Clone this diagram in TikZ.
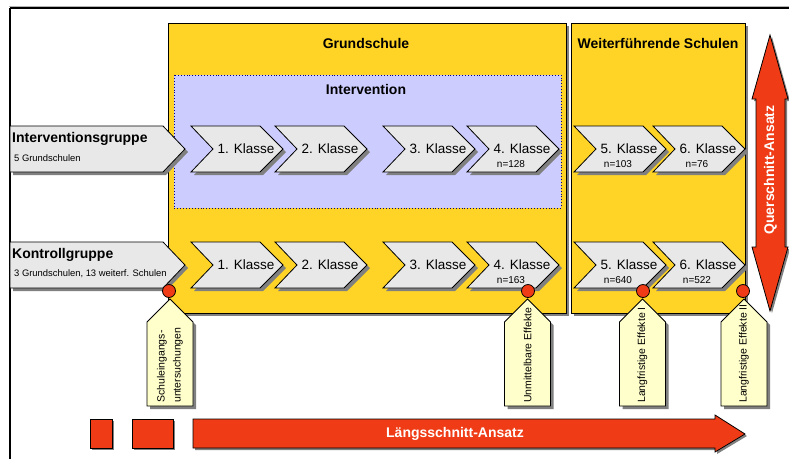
\documentclass[tikz,border=0pt]{standalone}
\usepackage{fontspec}
\setmainfont{Liberation Sans}
\usetikzlibrary{calc}

\definecolor{schoolyellow}{RGB}{255,212,38}
\definecolor{lavender}{RGB}{204,204,255}
\definecolor{chevgray}{RGB}{232,232,232}
\definecolor{tagyellow}{RGB}{255,255,204}
\definecolor{arrowred}{RGB}{240,60,22}
\definecolor{shadowc}{RGB}{128,128,128}
\definecolor{dotblue}{RGB}{0,0,128}

% chevron for one school year: name, left x, middle y, label
\newcommand\klassechev[4]{%
  \fill[shadowc] (#2+3,#3-20) -- ++(69,0) -- ++(23,23) -- ++(-23,23) -- ++(-69,0) -- ++(22,-23) -- cycle;
  \draw[chevline] (#2,#3-23) -- ++(69,0) -- ++(23,23) -- ++(-23,23) -- ++(-69,0) -- ++(22,-23) -- cycle;
  \node[klassetxt] (#1) at (#2+55,#3) {#4};
}
% group arrow on the left edge: name, top y
\newcommand\grouparrow[2]{%
  \fill[shadowc] (13,#2+3) -- (166,#2+3) -- (188,#2+26) -- (166,#2+49) -- (13,#2+49) -- cycle;
  \draw[chevline] (10,#2) -- (163,#2) -- (185,#2+23) -- (163,#2+46) -- (10,#2+46) -- cycle;
  \coordinate (#1) at (10,#2);
}
% measurement tag hanging below a dot: name, centre x, text
\newcommand\mtag[3]{%
  \fill[shadowc] (#2-20,325) -- (#2+3,302) -- (#2+26,325) -- (#2+26,409) -- (#2-20,409) -- cycle;
  \draw[tagline] (#2-23,322) -- (#2,299) -- (#2+23,322) -- (#2+23,406) -- (#2-23,406) -- cycle;
  \node[tagtxt] (#1) at (#2,403) {#3};
}

\tikzset{
  chevline/.style={fill=chevgray, draw=black, line width=0.8pt, line join=miter},
  tagline/.style={fill=tagyellow, draw=black, line width=0.8pt},
  klassetxt/.style={inner sep=0pt, font=\fontsize{13.5}{15}\selectfont},
  ntxt/.style={inner sep=0pt, font=\fontsize{10}{11}\selectfont},
  titletxt/.style={inner sep=0pt, font=\fontsize{14}{16}\selectfont\bfseries},
  grouptxt/.style={inner sep=0pt, anchor=base west, font=\fontsize{14}{16}\selectfont\bfseries},
  groupsub/.style={inner sep=0pt, anchor=base west, font=\fontsize{9.4}{11}\selectfont},
  tagtxt/.style={inner sep=0pt, rotate=90, anchor=west, align=left, font=\fontsize{10.5}{16}\selectfont},
  dotstyle/.style={circle, fill=arrowred, draw=black, line width=0.8pt, minimum size=13pt, inner sep=0pt},
  redshape/.style={fill=arrowred, draw=black, line width=0.8pt},
  arrowtxt/.style={inner sep=0pt, text=white, font=\fontsize{14}{16}\selectfont\bfseries},
}

\begin{document}
\begin{tikzpicture}[x=1pt,y=-1pt]
\useasboundingbox (0,0) rectangle (789,459);
\fill[white] (0,0) rectangle (789,459);

% outer frame
\draw[shadowc!60, line width=1pt] (9,6.5) -- (789,6.5);
\draw[black, line width=1.5pt] (10,8) -- (789,8);
\draw[black, line width=1.5pt] (10,8) -- (10,459);

% school type panels with shadows
\fill[shadowc] (171,26) rectangle (569,316);
\draw[fill=schoolyellow, draw=black, line width=0.8pt] (168,23) rectangle (566,313);
\fill[shadowc] (574,26) rectangle (748,316);
\draw[fill=schoolyellow, draw=black, line width=0.8pt] (571,23) rectangle (745,313);
\node[titletxt] (gs) at (366,43) {Grundschule};
\node[titletxt] (ws) at (658,43) {Weiterführende Schulen};

% intervention period
\draw[fill=lavender, draw=dotblue, line width=0.9pt, dotted] (174,75) rectangle (561,208);
\node[titletxt] (iv) at (366,89) {Intervention};

% groups
\grouparrow{ig}{126}
\node[grouptxt] (igt) at (12,142) {Interventionsgruppe};
\node[groupsub] (igs) at (14,161) {5 Grundschulen};
\grouparrow{kg}{242}
\node[grouptxt] (kgt) at (12,258) {Kontrollgruppe};
\node[groupsub] (kgs) at (14,276) {3 Grundschulen, 13 weiterf. Schulen};

% intervention group school years
\klassechev{i1}{191}{149}{1. Klasse}
\klassechev{i2}{275}{149}{2. Klasse}
\klassechev{i3}{383}{149}{3. Klasse}
\klassechev{i4}{467}{149}{4. Klasse}
\klassechev{i5}{574}{149}{5. Klasse}
\klassechev{i6}{653}{149}{6. Klasse}
\node[ntxt] (i4n) at (511,164) {n=128};
\node[ntxt] (i5n) at (618,164) {n=103};
\node[ntxt] (i6n) at (697,164) {n=76};

% control group school years
\klassechev{k1}{191}{265}{1. Klasse}
\klassechev{k2}{275}{265}{2. Klasse}
\klassechev{k3}{383}{265}{3. Klasse}
\klassechev{k4}{467}{265}{4. Klasse}
\klassechev{k5}{574}{265}{5. Klasse}
\klassechev{k6}{653}{265}{6. Klasse}
\node[ntxt] (k4n) at (511,280) {n=163};
\node[ntxt] (k5n) at (618,280) {n=640};
\node[ntxt] (k6n) at (697,280) {n=522};

% cross-sectional double arrow
\fill[shadowc] (772,37) -- (790,101) -- (787,101) -- (787,249) -- (790,249) -- (772,313) -- (754,249) -- (758,249) -- (758,101) -- (754,101) -- cycle;
\draw[redshape] (770,35) -- (788,99) -- (785,99) -- (785,247) -- (788,247) -- (770,311) -- (752,247) -- (756,247) -- (756,99) -- (752,99) -- cycle;
\node[arrowtxt, rotate=90] (qa) at (770.5,170) {Querschnitt-Ansatz};

% measurement points
\mtag{t1}{170}{Schuleingangs-\\untersuchungen}
\mtag{t2}{527.5}{Unmittelbare Effekte}
\mtag{t3}{642.5}{Langfristige Effekte I}
\mtag{t4}{744}{Langfristige Effekte II}
\node[dotstyle] (d1) at (169,291) {};
\node[dotstyle] (d2) at (528,291) {};
\node[dotstyle] (d3) at (643,291) {};
\node[dotstyle] (d4) at (743,291) {};

% longitudinal arrow
\fill[shadowc] (92,421) rectangle (114,450);
\fill[shadowc] (134,421) rectangle (175,450);
\draw[redshape] (90,419) rectangle (112,448);
\draw[redshape] (132,419) rectangle (173,448);
\fill[shadowc] (195,421) -- (717,421) -- (717,417) -- (747,436) -- (717,454) -- (717,450) -- (195,450) -- cycle;
\draw[redshape] (193,419) -- (715,419) -- (715,415) -- (745,434) -- (715,452) -- (715,448) -- (193,448) -- cycle;
\node[arrowtxt] (la) at (455,434) {Längsschnitt-Ansatz};
\end{tikzpicture}
\end{document}
